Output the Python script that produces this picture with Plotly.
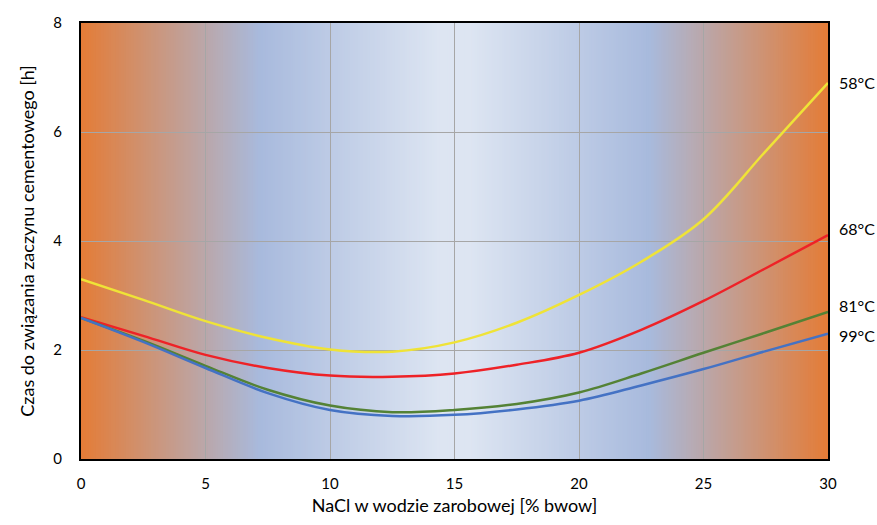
import plotly.graph_objects as go

# ---- data ----
nacl = [0, 2.5, 5, 7.5, 10, 12.5, 15, 17.5, 20, 22.5, 25, 27.5, 30]
t58 = [3.30, 2.92, 2.53, 2.22, 2.01, 1.97, 2.14, 2.50, 3.01, 3.62, 4.40, 5.65, 6.90]
t68 = [2.60, 2.26, 1.91, 1.67, 1.53, 1.51, 1.57, 1.73, 1.95, 2.37, 2.90, 3.50, 4.11]
t81 = [2.59, 2.17, 1.71, 1.27, 0.98, 0.86, 0.90, 1.01, 1.22, 1.57, 1.95, 2.32, 2.70]
t99 = [2.59, 2.15, 1.67, 1.21, 0.90, 0.79, 0.81, 0.91, 1.07, 1.35, 1.65, 1.98, 2.30]

series_names = ["58°C", "68°C", "81°C", "99°C"]
series_vals = [t58, t68, t81, t99]
series_colors = ["#EFE337", "#EE2227", "#548235", "#4472C4"]
label_yshift = [0, 7, 6, -2]

x_ticks = [0, 5, 10, 15, 20, 25, 30]
y_ticks = [0, 2, 4, 6, 8]

FONT = "Lato, 'Open Sans', sans-serif"

# ---- background gradient (orange - blue - light - blue - orange) ----
grad_stops = [
    (0.00, (228, 124, 55)),
    (0.24, (168, 186, 221)),
    (0.48, (221, 229, 242)),
    (0.52, (221, 229, 242)),
    (0.76, (168, 186, 221)),
    (1.00, (228, 124, 55)),
]


def grad_color(f):
    for (f0, c0), (f1, c1) in zip(grad_stops[:-1], grad_stops[1:]):
        if f0 <= f <= f1:
            t = 0 if f1 == f0 else (f - f0) / (f1 - f0)
            c = [round(a + (b - a) * t) for a, b in zip(c0, c1)]
            return "rgb(%d,%d,%d)" % tuple(c)
    return "rgb(%d,%d,%d)" % grad_stops[-1][1]


xmin, xmax = 0, 30
n_strips = 300
w = (xmax - xmin) / n_strips
shapes = []
for i in range(n_strips):
    x0 = xmin + i * w
    x1 = min(xmax, x0 + w * 1.6)
    shapes.append(dict(type="rect", xref="x", yref="paper", x0=x0, x1=x1, y0=0, y1=1,
                       fillcolor=grad_color((x0 + w / 2 - xmin) / (xmax - xmin)),
                       line=dict(width=0), layer="below"))

fig = go.Figure()
for name, vals, col in zip(series_names, series_vals, series_colors):
    fig.add_trace(go.Scatter(x=nacl, y=vals, mode="lines", name=name,
                             line=dict(color=col, width=2.5, shape="spline", smoothing=1.0)))

annotations = []
for name, vals, dy in zip(series_names, series_vals, label_yshift):
    annotations.append(dict(x=nacl[-1], y=vals[-1], text=name, showarrow=False,
                            xanchor="left", yanchor="middle", xshift=9, yshift=dy,
                            font=dict(family=FONT, size=16, color="#000000")))

fig.update_layout(
    width=877, height=525,
    margin=dict(l=81, r=49, t=23, b=63),
    paper_bgcolor="white",
    plot_bgcolor="white",
    showlegend=False,
    shapes=shapes,
    annotations=annotations,
    font=dict(family=FONT, color="#000000"),
)
fig.update_xaxes(range=[0, 30], tickvals=x_ticks, showgrid=True, gridcolor="#A6A6A6", gridwidth=1,
                 showline=True, linecolor="black", linewidth=2, mirror=True, zeroline=False,
                 ticks="", ticklabelstandoff=10, tickfont=dict(size=15),
                 title=dict(text="NaCl w wodzie zarobowej [% bwow]", font=dict(size=18), standoff=8))
fig.update_yaxes(range=[0, 8], tickvals=y_ticks, showgrid=True, gridcolor="#A6A6A6", gridwidth=1,
                 showline=True, linecolor="black", linewidth=2, mirror=True, zeroline=False,
                 ticks="", ticklabelstandoff=14, tickfont=dict(size=15),
                 title=dict(text="Czas do związania zaczynu cementowego [h]", font=dict(size=18), standoff=14))

fig.write_html("out.html")
